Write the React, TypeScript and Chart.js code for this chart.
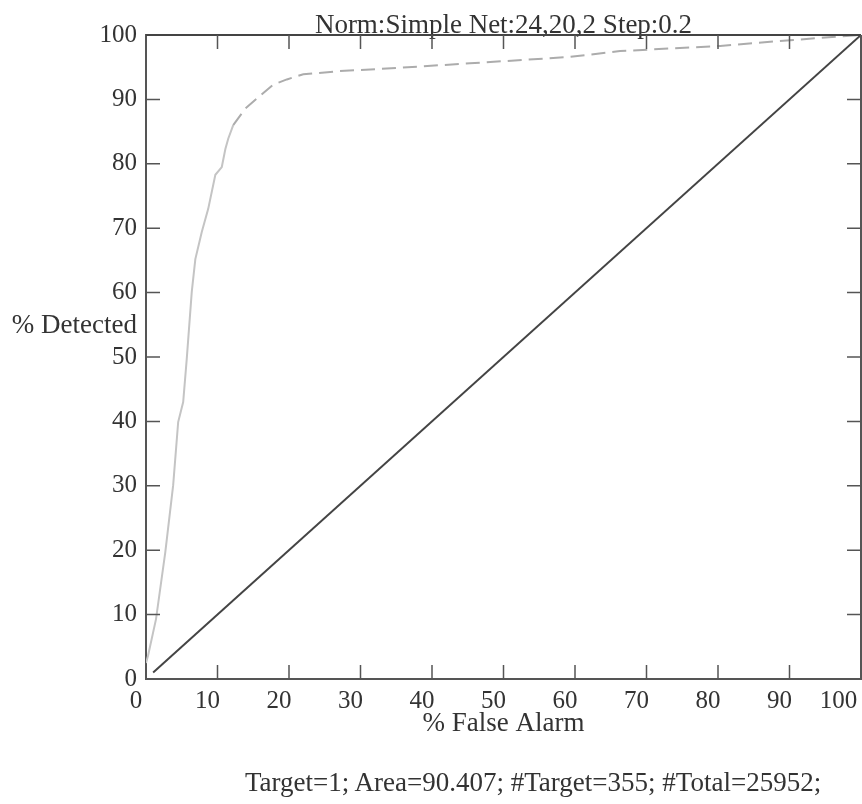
import React, { useEffect, useRef } from "react";
import { Chart, registerables } from "chart.js";

Chart.register(...registerables);

// ROC curve
const rocFalseAlarm = [0, 0.3, 1.4, 2.7, 3.8, 4.5, 5.2, 5.7, 6.4, 6.9, 7.8, 8.7, 9.7, 10.6, 11.1, 11.5, 12.2, 13.9, 15.9, 17.8, 19.7, 22.0, 27.1, 32.3, 45.3, 59.3, 66.3, 80.3, 90.1, 100];
const rocDetected = [2.5, 3.7, 9.3, 19.7, 30.1, 39.9, 43.0, 49.7, 60.1, 65.2, 69.4, 73.0, 78.3, 79.5, 82.3, 83.9, 86.0, 88.6, 90.5, 92.3, 93.1, 93.9, 94.4, 94.7, 95.6, 96.6, 97.5, 98.3, 99.2, 100];

// chance diagonal
const chanceFalseAlarm = [1, 100];
const chanceDetected = [1, 100];

const xTicks = [0, 10, 20, 30, 40, 50, 60, 70, 80, 90, 100];
const yTicks = [0, 10, 20, 30, 40, 50, 60, 70, 80, 90, 100];

const titleText = "Norm:Simple Net:24,20,2 Step:0.2";
const xTitle = "% False Alarm";
const yTitle = "% Detected";
const footerText = "Target=1; Area=90.407; #Target=355; #Total=25952;";

const FONT = "'Liberation Serif', 'Times New Roman', serif";
const TEXT = "#333";
const AXIS = "#555";

const framePlugin = {
  id: "frame",
  afterDatasetsDraw(chart: any) {
    const { ctx, chartArea, scales } = chart;
    const { left, right, top, bottom } = chartArea;
    const xs = scales.x;
    const ys = scales.y;
    ctx.save();
    ctx.strokeStyle = "#444";
    ctx.lineWidth = 2;
    ctx.beginPath();
    ctx.moveTo(left, top);
    ctx.lineTo(right, top);
    ctx.stroke();
    ctx.strokeStyle = AXIS;
    ctx.beginPath();
    ctx.moveTo(right, top);
    ctx.lineTo(right, bottom);
    ctx.stroke();
    const len = 14;
    ctx.lineWidth = 1.5;
    ctx.beginPath();
    xs.ticks.forEach((t: any) => {
      if (t.value <= xs.min || t.value >= xs.max) return;
      const px = xs.getPixelForValue(t.value);
      ctx.moveTo(px, bottom);
      ctx.lineTo(px, bottom - len);
      ctx.moveTo(px, top);
      ctx.lineTo(px, top + len);
    });
    ys.ticks.forEach((t: any) => {
      if (t.value <= ys.min || t.value >= ys.max) return;
      const py = ys.getPixelForValue(t.value);
      ctx.moveTo(left, py);
      ctx.lineTo(left + len, py);
      ctx.moveTo(right, py);
      ctx.lineTo(right - len, py);
    });
    ctx.stroke();
    ctx.restore();
  },
};

export default function App() {
  const ref = useRef<HTMLCanvasElement | null>(null);

  useEffect(() => {
    if (!ref.current) return;
    const rocData = rocFalseAlarm.map((x, i) => ({ x, y: rocDetected[i] }));
    const chanceData = chanceFalseAlarm.map((x, i) => ({ x, y: chanceDetected[i] }));
    const chart = new Chart(ref.current, {
      type: "scatter",
      data: {
        datasets: [
          {
            data: rocData,
            showLine: true,
            pointRadius: 0,
            borderColor: "#c4c4c4",
            borderWidth: 2,
            segment: {
              borderDash: (c: any) => (c.p0.parsed.x >= 12 ? [14, 7] : undefined),
              borderColor: (c: any) => (c.p0.parsed.x >= 12 ? "#acacac" : "#c4c4c4"),
            },
          },
          {
            data: chanceData,
            showLine: true,
            pointRadius: 0,
            borderColor: "#444",
            borderWidth: 2,
          },
        ],
      },
      options: {
        responsive: false,
        devicePixelRatio: 1,
        animation: false,
        layout: { padding: { left: 0, right: 1, top: 0, bottom: 0 } },
        plugins: {
          legend: { display: false },
          tooltip: { enabled: false },
          title: {
            display: true,
            text: titleText,
            fullSize: false,
            color: TEXT,
            font: { family: FONT, size: 27, weight: "normal", lineHeight: 1 },
            padding: { top: 12, bottom: -4 },
          },
        },
        scales: {
          x: {
            type: "linear",
            min: 0,
            max: 100,
            afterBuildTicks: (s: any) => {
              s.ticks = xTicks.map((v) => ({ value: v }));
            },
            afterFit: (s: any) => {
              s.height = 125;
              s.paddingLeft = 0;
              s.paddingRight = 0;
            },
            grid: { display: false, drawTicks: false },
            border: { display: true, color: AXIS, width: 2 },
            ticks: {
              color: TEXT,
              font: { family: FONT, size: 25 },
              padding: 7,
              labelOffset: -10,
              maxRotation: 0,
              autoSkip: false,
              callback: (v: any) => (v === 100 ? "100    " : String(v)),
            },
            title: {
              display: true,
              text: xTitle,
              color: TEXT,
              font: { family: FONT, size: 27, lineHeight: 1.2 },
              padding: { top: 0, bottom: 64 },
            },
          },
          y: {
            type: "linear",
            min: 0,
            max: 100,
            afterBuildTicks: (s: any) => {
              s.ticks = yTicks.map((v) => ({ value: v }));
            },
            afterFit: (s: any) => {
              s.width = 146;
              s.paddingTop = 0;
              s.paddingBottom = 0;
            },
            grid: { display: false, drawTicks: false },
            border: { display: true, color: AXIS, width: 2 },
            ticks: {
              color: TEXT,
              font: { family: FONT, size: 25 },
              padding: 9,
              autoSkip: false,
            },
          },
        },
      },
      plugins: [framePlugin],
    } as any);
    return () => chart.destroy();
  }, []);

  const textStyle: React.CSSProperties = {
    position: "absolute",
    fontFamily: FONT,
    fontSize: 27,
    lineHeight: "27px",
    color: TEXT,
    whiteSpace: "nowrap",
  };

  return (
    <div style={{ position: "fixed", left: 0, top: 0, width: 862, height: 804, background: "#fff" }}>
      <canvas ref={ref} width={862} height={804} style={{ display: "block" }} />
      <div style={{ ...textStyle, left: 0, top: 311, width: 137, textAlign: "right" }}>{yTitle}</div>
      <div style={{ ...textStyle, left: 245, top: 769 }}>{footerText}</div>
    </div>
  );
}
